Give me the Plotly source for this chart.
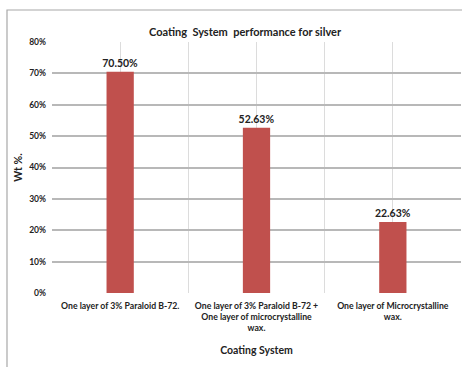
import plotly.graph_objects as go

categories = [
    "One layer of 3% Paraloid B-72.",
    "One layer of 3% Paraloid B-72 +<br>One layer of microcrystalline<br>wax.",
    "One layer of Microcrystalline<br>wax.",
]
values = [0.7050, 0.5263, 0.2263]
value_labels = ["70.50%", "52.63%", "22.63%"]
y_ticks = [0, 0.1, 0.2, 0.3, 0.4, 0.5, 0.6, 0.7, 0.8]
y_ticktext = ["0%", "10%", "20%", "30%", "40%", "50%", "60%", "70%", "80%"]

FONT = "Lato"
positions = list(range(len(categories)))

fig = go.Figure()
fig.add_trace(go.Bar(
    x=positions, y=values, width=0.2,
    marker=dict(color="#c0504d", line=dict(width=0)),
    text=["<b>%s</b>" % t for t in value_labels], textposition="outside", cliponaxis=False,
    constraintext="none",
    textfont=dict(family=FONT, size=10.5, color="#222222"),
))

fig.update_layout(
    width=462, height=367,
    margin=dict(l=52, r=1, t=42, b=74),
    paper_bgcolor="white", plot_bgcolor="white",
    showlegend=False,
    font=dict(family=FONT, color="#222222"),
    title=dict(text="<b>Coating  System  performance for silver</b>",
               font=dict(family=FONT, size=11, color="#222222"),
               x=245 / 462, xanchor="center", y=1 - 32 / 367, yanchor="middle"),
    bargap=0.8,
)
fig.update_xaxes(
    range=[-0.5, 2.5], tickvals=positions, ticktext=["<b>%s</b>" % c for c in categories],
    tickfont=dict(family=FONT, size=8.7, color="#222222"),
    ticklabelstandoff=6,
    showgrid=True, gridcolor="#dcdcdc", gridwidth=1,
    minor=dict(tickvals=[-0.5, 0.5, 1.5, 2.5], showgrid=True, gridcolor="#dcdcdc", gridwidth=1),
    showline=False, zeroline=False, ticks="",
    title=dict(text="<b>Coating System</b>", font=dict(family=FONT, size=10.5, color="#222222"), standoff=14),
)
fig.update_yaxes(
    range=[0, 0.8], tickvals=y_ticks, ticktext=["<b>%s</b>" % t for t in y_ticktext],
    tickfont=dict(family=FONT, size=8.5, color="#222222"),
    ticklabelstandoff=5,
    showgrid=True, gridcolor="#b8b8b8", gridwidth=1.5,
    zeroline=False, showline=False, ticks="",
    title=dict(text="<b>Wt %.</b>", font=dict(family=FONT, size=10.5, color="#222222"), standoff=4),
)
fig.add_shape(type="rect", xref="paper", yref="paper",
              x0=(7 - 52) / 409, x1=1.1, y0=-0.6, y1=(293 - 10) / 251,
              line=dict(color="#a8a8a8", width=1.2), fillcolor="rgba(0,0,0,0)", layer="below")
fig.write_html("out.html")
